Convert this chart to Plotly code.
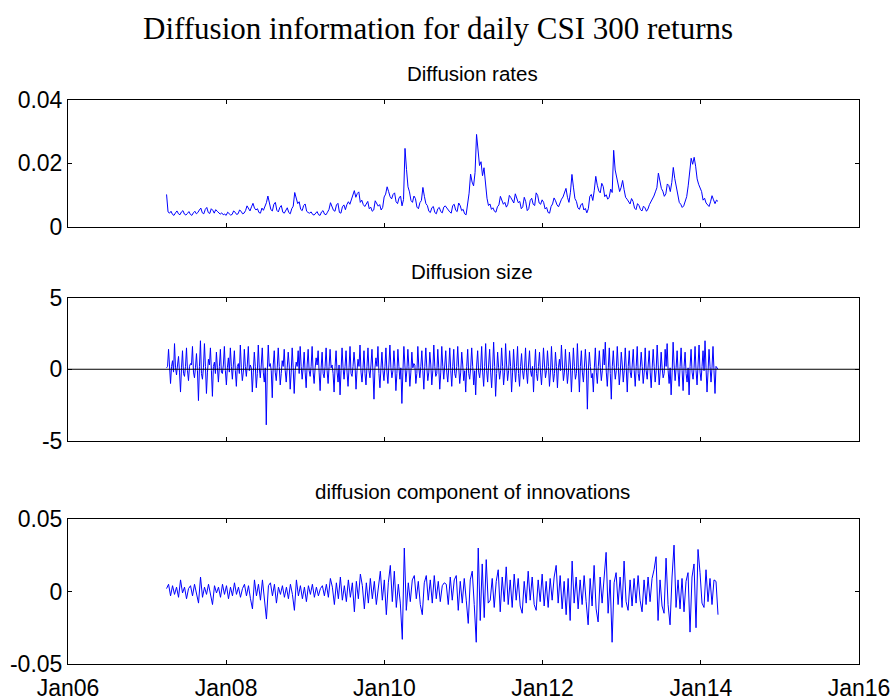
import plotly.graph_objects as go
import pandas as pd

# ---------------- data ----------------
START, END = "2007-04-01", "2014-03-21"

# Diffusion rates, in units of 1e-3: the main readings ...
rates_milli = [
    10.1, 4.2, 3.8, 4.3, 4.0, 4.6, 3.9, 4.1, 3.8, 4.3,
    4.0, 5.2, 4.3, 5.4, 4.4, 5.6, 4.2, 4.8, 3.9, 3.7,
    3.5, 4.1, 3.8, 4.5, 4.0, 4.8, 4.2, 6.5, 4.9, 7.3,
    5.2, 4.4, 5.8, 6.2, 9.6, 5.3, 7.0, 5.1, 6.0, 4.5,
    5.3, 4.4, 5.6, 10.7, 7.2, 5.4, 6.6, 4.8, 4.2, 3.8,
    4.3, 3.7, 4.6, 3.9, 4.5, 7.5, 5.1, 6.8, 4.4, 6.2,
    5.3, 7.8, 8.6, 11.3, 10.4, 7.6, 6.9, 7.3, 5.6, 4.8,
    8.1, 6.4, 5.2, 9.3, 12.5, 9.4, 10.1, 7.8, 9.0, 6.5,
    24.6, 12.5, 8.2, 9.6, 6.1, 7.5, 12.3, 7.2, 4.8, 5.9,
    4.4, 5.6, 4.7, 6.1,
    5.8, 4.6, 6.6, 5.1, 7.4, 5.0, 4.0, 7.2, 16.5, 12.8,
    29.0, 19.2, 16.0, 12.4, 6.6, 5.4, 4.8, 6.2, 9.5, 7.0,
    6.1, 9.8, 8.1, 10.3, 7.5, 5.6, 9.2, 5.0, 8.2, 7.0,
    10.6, 7.4, 8.4, 5.5, 4.4, 6.3, 9.0, 6.8, 7.8, 9.3,
    12.0, 7.6, 16.4, 8.8, 5.9, 6.8, 5.2, 4.3, 9.5, 8.2,
    15.8, 11.2, 13.6, 9.4, 8.6, 11.8, 24.0, 15.5, 11.0, 14.5,
    9.2, 7.6, 8.8, 5.8, 7.2, 5.3, 6.4, 4.8, 6.9, 8.5,
    10.9, 16.8, 12.0, 9.5, 13.4, 11.0, 18.6, 12.5, 7.6, 6.0,
    8.0, 12.8, 21.5, 21.8, 15.0, 12.2, 8.3, 7.4, 6.3, 9.7,
    7.2, 7.9,
]
# ... and the wiggles between consecutive readings
rates_between = [
    4.6, 4.8, 3.5, 4.9, 3.7, 5.0, 3.6, 4.7, 3.5, 4.8,
    4.4, 5.8, 4.0, 6.0, 4.1, 5.1, 5.3, 4.4, 4.3, 3.9,
    4.5, 3.6, 4.9, 3.8, 5.2, 4.0, 5.0, 5.6, 6.2, 5.8,
    5.6, 4.2, 5.1, 7.5, 7.8, 4.9, 7.6, 4.6, 6.6, 4.2,
    5.9, 4.0, 6.4, 8.9, 7.8, 5.0, 7.1, 4.4, 4.6, 3.6,
    4.7, 3.5, 5.0, 3.7, 5.4, 6.4, 4.8, 7.3, 4.2, 6.8,
    6.9, 7.0, 9.4, 9.2, 10.9, 8.3, 6.3, 7.9, 6.1, 5.2,
    7.2, 6.9, 6.0, 10.2, 11.0, 8.7, 10.6, 7.2, 9.6, 8.5,
    18.0, 10.9, 7.6, 8.8, 5.6, 8.2, 9.5, 6.6, 4.4, 6.3,
    4.0, 6.0, 4.3, 6.5,
    5.3, 4.2, 7.0, 4.7, 6.6, 5.4, 3.7, 10.5, 14.0, 17.0,
    22.5, 20.4, 18.5, 8.9, 7.1, 5.9, 4.5, 6.8, 8.4, 7.6,
    7.0, 9.1, 7.4, 9.2, 7.9, 6.2, 7.8, 5.6, 8.9, 6.6,
    9.8, 7.0, 7.6, 6.0, 4.2, 7.1, 8.1, 6.2, 8.6, 10.5,
    9.2, 10.8, 12.4, 7.9, 5.4, 7.3, 5.7, 5.6, 10.1, 11.4,
    13.0, 10.6, 12.6, 10.0, 9.2, 10.7, 17.8, 13.7, 12.3, 11.6,
    8.6, 7.1, 7.9, 5.3, 6.6, 4.9, 5.9, 5.5, 7.7, 9.6,
    12.2, 14.6, 11.1, 10.3, 12.9, 13.9, 15.1, 10.2, 7.0, 6.5,
    9.4, 17.5, 19.6, 19.0, 13.3, 11.0, 8.9, 6.9, 7.8, 8.4,
    8.3,
]

# Diffusion size: the spike heights ...
size_spikes = [
    0.1, 1.4, -1.0, 0.6, 1.8, -0.4, 0.9, -1.6, 1.3, -0.5,
    1.5, -0.8, 0.4, 1.6, -0.6, 1.1, -2.2, 2.0, -0.7, 1.8,
    -1.7, 0.7, 1.5, -1.9, 0.5, 1.2, -0.9, 1.4, -0.3, 1.6,
    -1.1, 0.8, 1.5, -0.7, 1.3, -1.2, 0.4, 1.7, -0.8, 1.4,
    -0.5, 1.6, 0.3, -1.6, 1.2, -1.3, 1.7, -0.6, 1.5, -0.9,
    -3.9, 1.7, 0.4, -2.0, 1.3, -0.8, 1.5, -1.1, 0.6, 1.4,
    -0.9, 1.2, -1.4, 1.5, -1.7, 0.5, 1.3, 1.6, -0.7, 1.2,
    -1.3, 1.4, -0.5, 1.6, -1.0, 0.8, 1.3, -1.5, 1.2, -0.6,
    1.5, -1.0, 1.4, 0.3, -1.6, 1.3, -0.9, -1.8, 1.5, -0.7,
    1.3, -1.2, 1.6, -0.5, 1.2, -1.4, 0.7, 1.7, -0.9, 1.3,
    -1.1, 1.5, -0.6, 1.4, -2.1, 0.8, 1.6, -1.3, 1.2, -0.8,
    1.5, -1.0, 1.7, -0.6, 1.3, -1.5, 1.4, -0.7, -2.4, 1.6,
    -0.9, 1.4, -1.2, 1.2, 0.4, -1.0, 1.6, -0.6, 1.3, -1.4,
    1.5, -0.8, 1.2, -1.1, 1.7, -0.5, 1.4, -1.4, 1.6, -0.7,
    1.3, -0.9, 1.5, -1.2, 1.4, -0.6, 1.6, -1.0, 1.2, -0.8,
    -1.6, 1.4, -0.7, 1.5, -1.1, -1.8, 1.3, -0.6, 1.6, -1.2,
    1.8, -0.9, 1.4, -1.3, 1.9, -1.9, 1.2, -0.7, 1.5, -1.1,
    1.8, -0.8, 1.3, -1.6, 1.4, -0.9, 1.6, -1.2, 1.1, -0.7,
    1.5, -1.0, 1.3, -0.5, -1.6, 1.4, -0.8, 1.2, -1.1, 1.5,
    -0.6, 1.3, -1.2, 1.6, -0.9, 1.2, -1.3, 0.7, 1.7, -0.8,
    1.4, -1.0, 1.2, -1.6, 1.5, -0.7, 1.8, -1.6, 1.3, -0.9,
    1.4, -2.8, 1.2, -0.6, -1.6, 1.5, -1.0, 1.3, -0.8, 1.4,
    1.9, -1.2, 1.5, -2.1, 1.3, -0.7, 1.6, -1.1, 1.2, -0.9,
    1.5, -1.6, 1.3, -0.6, 1.4, -1.2, 1.6, -0.8, 1.2, -1.0,
    1.5, -0.7, 1.3, -1.3, 1.4, -0.9, 1.7, -1.1, 1.2, -0.6,
    1.4, 1.8, -1.0, -1.8, 1.9, -0.8, 1.3, -1.2, 1.5, -1.5,
    1.2, -0.9, -1.8, 1.4, -0.7, 1.6, -1.1, 1.7, -0.8, 1.3,
    2.0, -1.6, 1.4, -0.9, 1.6, -1.7, 0.1,
]
# ... and the small values that lie between the spikes
size_between = [
    0.2, -0.1, 0.2, -0.2, 0.1, 0.3, -0.2, 0.1, -0.3, 0.2,
    -0.1, 0.2, 0.3, -0.2, 0.1, -0.1, 0.2, -0.3, 0.1, 0.2,
    -0.2, 0.3, -0.1, 0.2, -0.3, 0.1, 0.2, -0.2, 0.3, -0.1,
    0.1, -0.2, 0.2, 0.3, -0.1, 0.2, -0.3, 0.1, -0.2, 0.2,
    0.3, -0.1, 0.1, -0.2, 0.2, -0.3, 0.1, 0.3, -0.2, 0.1,
    -0.2, 0.2, -0.1, 0.3, -0.2, 0.1, 0.2, -0.3, 0.2, -0.1,
    0.1, 0.3, -0.2, 0.1, -0.1, 0.2, -0.3, 0.2, 0.1, -0.2,
    0.3, -0.1, 0.2, -0.2, 0.1, 0.3, -0.2, 0.1, -0.3, 0.2,
    -0.1, 0.2, 0.1, -0.3, 0.2, -0.2, 0.3, -0.1, 0.1, 0.2,
    -0.2, 0.1, -0.3, 0.2, 0.3, -0.1, 0.2, -0.2, 0.1, -0.3,
    0.2, -0.1, 0.3, -0.2, 0.1, 0.2, -0.3, 0.1, -0.1, 0.2,
    -0.2, 0.3, 0.1, -0.1, 0.2, -0.3, 0.2, 0.1, -0.2, 0.3,
    -0.1, 0.2, -0.2, 0.1, 0.3, -0.3, 0.1, 0.2, -0.1, 0.2,
    0.1, -0.2, 0.3, -0.1, 0.2, -0.3, 0.1, -0.2, 0.2, 0.3,
    -0.2, 0.1, -0.1, 0.2, -0.3, 0.2, 0.1, -0.2, 0.3, -0.1,
    0.2, -0.3, 0.1, 0.2, -0.1, 0.3, -0.2, 0.1, -0.2, 0.2,
    -0.1, 0.3, -0.2, 0.1, 0.2, -0.3, 0.1, -0.1, 0.2, -0.2,
    0.3, -0.1, 0.2, -0.2, 0.1, 0.2, -0.3, 0.2, -0.1, 0.1,
    -0.2, 0.3, -0.1, 0.2, 0.1, -0.3, 0.2, -0.2, 0.1, 0.3,
    -0.1, 0.2, -0.2, 0.1, -0.3, 0.2, 0.1, -0.1, 0.3, -0.2,
    0.1, -0.2, 0.3, -0.1, 0.2, -0.3, 0.1, 0.2, -0.2, 0.1,
    0.3, -0.1, 0.2, -0.3, 0.1, -0.2, 0.2, 0.1, -0.1, 0.3,
    -0.2, 0.1, -0.3, 0.2, 0.1, -0.1, 0.2, -0.2, 0.3, -0.1,
    0.1, 0.2, -0.2, 0.3, -0.1, 0.2, -0.3, 0.1, 0.2, -0.2,
    -0.1, 0.3, -0.2, 0.1, 0.2, -0.1, 0.3, -0.2, 0.1, -0.3,
    0.2, -0.1, 0.1, -0.2, 0.3, 0.1, -0.2, 0.2, -0.1, 0.2,
    -0.3, 0.1, 0.2, -0.2, 0.1, -0.1, 0.3, -0.2, 0.2, -0.1,
    0.1, -0.2, 0.2, 0.1, -0.1, 0.2, 0.0,
]

# Diffusion component of innovations, in units of 1e-3
innov_milli = [
    2, 5, -3, 4, -2, 3, -4, 8, -1, 3,
    -5, 2, 4, -3, 5, -2, -8, 10, -4, 3,
    -2, 5, -3, -9, 4, -1, 3, -4, 5, -2,
    4, -5, 3, -3, 6, -2, 3, -4, 2, 5,
    -3, 4, -5, -12, 8, -3, 5, -6, 8, -4,
    -19, 4, 6, -3, 5, -8, 3, -2, 4, -4,
    3, -5, 5, -2, -13, 8, -3, 4, -5, 3,
    -7, 4, -2, 5, -4, 3, -3, 2, 4, -3,
    5, -4, 9, 3, -9, 6, -5, 10, -6, 4,
    -7, 8, -4, 6, -14, 7, -5, 12, 4, -12,
    6, -8, 9, -5, 7, -9, 5, 14, -6, 8,
    -16, 6, 18, -7, 14, -11, 5, -8, -33, 30,
    -13, 6, -7, 8, 11, -5, 7, -9, -16, 6,
    11, -6, 8, -8, 11, -5, 7, -7, 4, 6,
    5, -9, 10, -6, 8, 11, -13, 7, -8, 9,
    -6, -22, 8, 14, -9, -35, 30, -20, 19, -18,
    22, -8, -6, 9, -11, 7, 15, -14, 10, -7,
    17, -9, 8, -11, 12, -6, 9, -10, -15, 7,
    -8, 14, -6, 10, -9, -13, 8, -7, 12, -10,
    7, -11, 9, -6, 10, 18, -8, 11, -12, 7,
    -16, 9, -20, 21, -8, 10, -12, 8, -9, 11,
    -7, -23, 9, -10, 18, -12, -21, 10, -8, 12,
    27, -15, 8, -35, 6, 13, -9, 10, -11, 21,
    -7, -13, 8, -10, 9, -8, 11, -6, -14, 8,
    -9, 10, -7, 9, 15, 24, -20, 8, -10, -15,
    23, -9, -23, 10, 32, -11, 8, -12, 9, -14,
    7, 13, -28, 10, 19, -25, 29, 13, -8, -11,
    15, -7, 9, -9, 8, 7, -16,
]

x_tickvals = ["2006-01-01", "2008-01-01", "2010-01-01", "2012-01-01", "2014-01-01", "2016-01-01"]
x_ticktext = ["Jan06", "Jan08", "Jan10", "Jan12", "Jan14", "Jan16"]

titles = ["Diffusion rates", "Diffusion size", "diffusion component of innovations"]
main_title = "Diffusion information for daily CSI 300 returns"

y1_ticks, y1_text = [0, 0.02, 0.04], ["0", "0.02", "0.04"]
y2_ticks, y2_text = [-5, 0, 5], ["-5", "0", "5"]
y3_ticks, y3_text = [-0.05, 0, 0.05], ["-0.05", "0", "0.05"]

# ---------------- figure ----------------
W, H = 893, 700

rates_vals = []
for a, b in zip(rates_milli, rates_between):
    rates_vals += [a / 1000, b / 1000]
rates_vals.append(rates_milli[-1] / 1000)

size_vals = []
for a, b in zip(size_spikes, size_between):
    size_vals += [a, b]

d1 = pd.date_range(START, END, periods=len(rates_vals))
d2 = pd.date_range(START, END, periods=len(size_vals))
d3 = pd.date_range(START, END, periods=len(innov_milli))

blue = dict(color="#0000FF", width=1)
fig = go.Figure()
fig.add_trace(go.Scatter(x=d1, y=rates_vals, mode="lines",
                         line=blue, xaxis="x", yaxis="y", showlegend=False))
fig.add_trace(go.Scatter(x=d2, y=size_vals, mode="lines",
                         line=blue, xaxis="x2", yaxis="y2", showlegend=False))
fig.add_trace(go.Scatter(x=d3, y=[v / 1000 for v in innov_milli], mode="lines",
                         line=blue, xaxis="x3", yaxis="y3", showlegend=False))

tickfont = dict(family="Liberation Sans, Arial, sans-serif", size=23, color="black")
L, R = 68, 34


def py(p):
    return 1 - p / H


def xax(anchor, show):
    return dict(anchor=anchor, domain=[0, 1], type="date", automargin=False,
                range=["2006-01-01", "2016-01-01"],
                tickvals=x_tickvals, ticktext=x_ticktext, showticklabels=show,
                ticklabelstandoff=3,
                ticks="inside", ticklen=4, tickwidth=1, tickcolor="black",
                showline=True, linecolor="black", linewidth=1, mirror="ticks",
                showgrid=False, zeroline=False, tickfont=tickfont)


def yax(anchor, dom, rng, tv, tt):
    return dict(anchor=anchor, domain=dom, range=rng, tickvals=tv, ticktext=tt,
                automargin=False,
                ticks="inside", ticklen=4, tickwidth=1, tickcolor="black",
                showline=True, linecolor="black", linewidth=1, mirror="ticks",
                showgrid=False, zeroline=False, tickfont=tickfont)


fig.update_layout(
    width=W, height=H, autosize=False,
    margin=dict(l=L, r=R, t=0, b=0, pad=0),
    paper_bgcolor="white", plot_bgcolor="white",
    xaxis=xax("y", False),
    xaxis2=xax("y2", False),
    xaxis3=xax("y3", True),
    yaxis=yax("x", [py(226.5), py(99.5)], [0, 0.04], y1_ticks, y1_text),
    yaxis2=yax("x2", [py(440.5), py(298)], [-5, 5], y2_ticks, y2_text),
    yaxis3=yax("x3", [py(664), py(519)], [-0.05, 0.05], y3_ticks, y3_text),
    shapes=[dict(type="line", xref="x2 domain", yref="y2", x0=0, x1=1, y0=0, y1=0,
                 line=dict(color="black", width=1), layer="above")],
)

sub_y = [73, 271, 491]
sub_x = (472 - L) / (W - L - R)
for t, yy in zip(titles, sub_y):
    fig.add_annotation(text=t, xref="paper", yref="paper", x=sub_x, y=py(yy),
                       xanchor="center", yanchor="middle", showarrow=False,
                       font=dict(family="Liberation Sans, Arial, sans-serif", size=20.5, color="black"))

fig.add_annotation(text=main_title, xref="paper", yref="paper",
                   x=(438 - L) / (W - L - R), y=py(28), xanchor="center", yanchor="middle",
                   showarrow=False,
                   font=dict(family="Liberation Serif, Times New Roman, serif", size=31, color="black"))

fig.write_html("out.html")
